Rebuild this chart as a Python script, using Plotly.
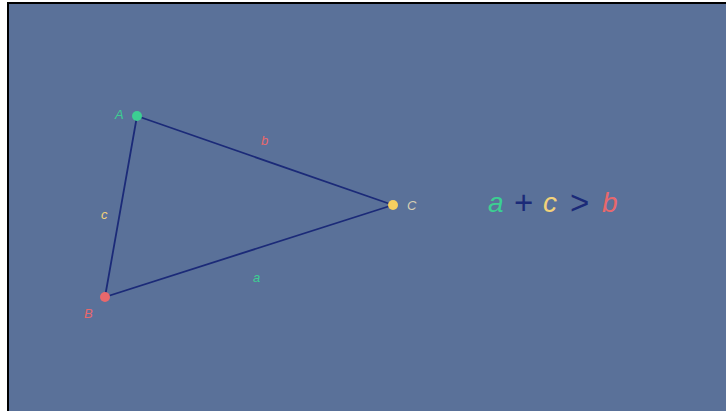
import plotly.graph_objects as go

# ---- data ----
vertex_names = ["A", "B", "C"]
vertex_x = [137, 105, 393]
vertex_y = [116, 297, 205]
edge_names = ["c", "b", "a"]          # AB, AC, BC
edge_pairs = [(0, 1), (0, 2), (1, 2)]
equation_parts = ["a", "+", "c", ">", "b"]

# ---- styles / layout ----
BG = "#5a7199"
LINE = "#1b2a78"
GREEN = "#3ccf92"
RED = "#e8686c"
YELLOW = "#f2d27a"
BEIGE = "#d6cfb4"
vertex_colors = [GREEN, RED, "#f5cf5f"]
vertex_label_colors = [GREEN, RED, BEIGE]
vertex_label_shift = [(-18, 2), (-17, -16), (19, 0)]
edge_label_colors = [YELLOW, RED, GREEN]
edge_label_shift = [(-17, -8), (-1, 20), (7, -26)]
eq_colors = [GREEN, LINE, YELLOW, LINE, RED]
eq_italic = [True, False, True, False, True]
eq_sizes = [28, 33, 28, 33, 28]
eq_centers = [496, 523.5, 550, 579.5, 610]   # pixel x of each symbol
eq_ys = [202, 202, 202, 202, 202]

W, H = 726, 411
fig = go.Figure()

tri_x = [vertex_x[i] for i in (0, 1, 2, 0)]
tri_y = [vertex_y[i] for i in (0, 1, 2, 0)]
fig.add_trace(go.Scatter(x=tri_x, y=tri_y, mode="lines",
                         line=dict(color=LINE, width=1.8), hoverinfo="skip"))
fig.add_trace(go.Scatter(x=vertex_x, y=vertex_y, mode="markers",
                         marker=dict(color=vertex_colors, size=10, line=dict(width=0)),
                         hoverinfo="skip"))

annotations = []
for name, x, y, c, (dx, dy) in zip(vertex_names, vertex_x, vertex_y,
                                   vertex_label_colors, vertex_label_shift):
    annotations.append(dict(x=x, y=y, text=f"<i>{name}</i>", showarrow=False,
                            xshift=dx, yshift=dy,
                            font=dict(color=c, size=13, family="Liberation Sans")))
for name, (i, j), c, (dx, dy) in zip(edge_names, edge_pairs,
                                     edge_label_colors, edge_label_shift):
    mx = (vertex_x[i] + vertex_x[j]) / 2
    my = (vertex_y[i] + vertex_y[j]) / 2
    annotations.append(dict(x=mx, y=my, text=f"<i>{name}</i>", showarrow=False,
                            xshift=dx, yshift=dy,
                            font=dict(color=c, size=13, family="Liberation Sans")))

for p, c, it, ex, ey, sz in zip(equation_parts, eq_colors, eq_italic,
                                eq_centers, eq_ys, eq_sizes):
    t = f"<i>{p}</i>" if it else p
    annotations.append(dict(x=ex, y=ey, text=t, showarrow=False,
                            xanchor="center", yanchor="middle",
                            font=dict(size=sz, color=c, family="Liberation Sans")))

shapes = [
    dict(type="rect", xref="paper", yref="paper", x0=0, x1=7 / W, y0=0, y1=1,
         fillcolor="white", line=dict(width=0), layer="above"),
    dict(type="rect", xref="paper", yref="paper", x0=0, x1=1, y0=1 - 2 / H, y1=1,
         fillcolor="white", line=dict(width=0), layer="above"),
    dict(type="rect", xref="paper", yref="paper", x0=7 / W, x1=9 / W, y0=0, y1=1 - 2 / H,
         fillcolor="black", line=dict(width=0), layer="above"),
    dict(type="rect", xref="paper", yref="paper", x0=7 / W, x1=1, y0=1 - 4 / H, y1=1 - 2 / H,
         fillcolor="black", line=dict(width=0), layer="above"),
]

fig.update_layout(
    width=W, height=H, margin=dict(l=0, r=0, t=0, b=0),
    paper_bgcolor=BG, plot_bgcolor=BG, showlegend=False,
    xaxis=dict(range=[0, W], visible=False, fixedrange=True),
    yaxis=dict(range=[H, 0], visible=False, fixedrange=True),
    annotations=annotations, shapes=shapes,
)

fig.write_html("out.html", config={"displayModeBar": False},
               post_script="document.body.style.margin='0';")
